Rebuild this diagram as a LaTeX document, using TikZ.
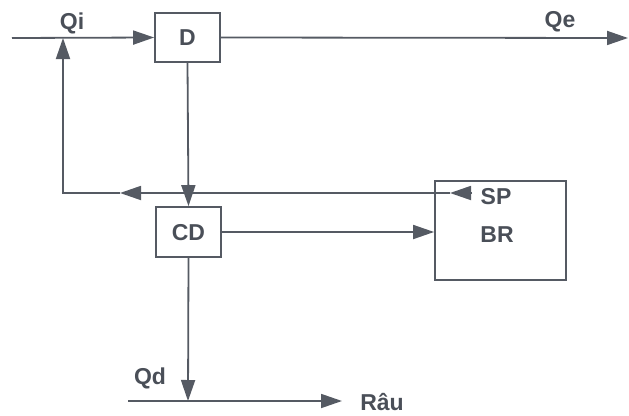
\documentclass[tikz,border=0pt]{standalone}
\usepackage{fontspec}
\setmainfont{Liberation Sans}
\usetikzlibrary{arrows.meta}
\definecolor{ln}{HTML}{555A63}
\definecolor{tx}{HTML}{4A4F58}
\newcommand\lblfont{\fontsize{23}{26}\selectfont\bfseries}
\begin{document}
\begin{tikzpicture}[x=1pt,y=-1pt,
  tip/.style={-{Triangle[length=21pt,width=14pt]}},
  wire/.style={draw=ln,line width=1.8pt},
  blk/.style={draw=ln,line width=1.8pt,rectangle,inner sep=0pt},
  lbl/.style={text=tx,font=\lblfont,inner sep=0pt,text height=16.5pt,text depth=0pt}]
\useasboundingbox (0,0) rectangle (629,415);
% boxes
\node[blk,minimum width=65pt,minimum height=49pt] (D) at (187.5,37.5) {};
\node[lbl] at (D.center) {D};
\node[blk,minimum width=65pt,minimum height=50pt] (CD) at (188.5,232) {};
\node[lbl] at (CD.center) {CD};
\node[blk,minimum width=131pt,minimum height=99pt] (SB) at (500.5,230.5) {};
\node[lbl] (SP) at (496,196) {SP};
\node[lbl] (BR) at (497,234) {BR};
% labels
\node[lbl] (Qi) at (72,21) {Qi};
\node[lbl] (Qe) at (560,19) {Qe};
\node[lbl] (Qd) at (150,376) {Qd};
\node[lbl] (Rau) at (382,402) {Râu};
% coordinates
\coordinate (in) at (12,38);
\coordinate (out) at (628,38);
\coordinate (fbR) at (472,193);
\coordinate (fbA) at (450,193);
\coordinate (fbM) at (120,193);
\coordinate (fbL) at (63,193);
\coordinate (fbT) at (63,38);
\coordinate (bj) at (188,401);
\coordinate (bL) at (128,401);
\coordinate (bR) at (342,401);
% connectors
\draw[wire,tip] (in) -- (D.west);
\draw[wire,tip] (D.east) -- (out);
\draw[wire,tip] (D.south) -- (CD.north);
\draw[wire,tip] (CD.east) -- (SB.west |- CD.east);
\draw[wire,tip] (CD.south) -- (bj);
\draw[wire,tip] (bL) -- (bR);
\draw[wire,tip] (fbR) -- (fbA);
\draw[wire,tip] (fbA) -- (fbM);
\draw[wire,tip] (fbM) -- (fbL) -- (fbT);
\end{tikzpicture}
\end{document}
